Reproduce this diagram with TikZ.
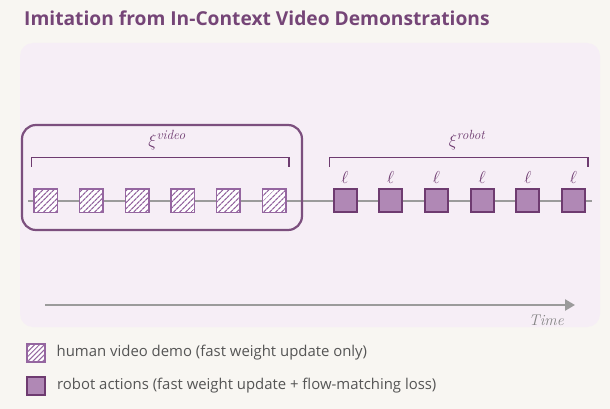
\documentclass[tikz,border=0pt]{standalone}
\usepackage{amsmath, amssymb}
\usepackage{fontspec}
\usepackage{tikz}
\usetikzlibrary{
  arrows.meta,    % Time arrow head
  patterns.meta,  % hatched video frames
  positioning     % legend text next to its swatch
}
\newfontfamily\uisans{Open Sans}
\definecolor{pagebg}{HTML}{F8F6F2}
\definecolor{panelbg}{HTML}{F6EEF6}
\definecolor{plum}{HTML}{6E3B70}
\definecolor{plumlight}{HTML}{9566A0}
\definecolor{plumfill}{HTML}{B088B5}
\definecolor{tlgray}{HTML}{9B9B9B}
\definecolor{txtgray}{HTML}{555555}

\begin{document}
\begin{tikzpicture}[x=1pt, y=-1pt,
    vidframe/.style={draw=plumlight, line width=1.5pt, minimum size=23.5pt, inner sep=0pt,
      preaction={fill=white},
      pattern={Lines[angle=45, distance=4pt, line width=1.3pt]}, pattern color=plumlight},
    robframe/.style={draw=plum, line width=2pt, fill=plumfill, minimum size=23pt, inner sep=0pt,
      label={[plum, label distance=0.5pt, font=\fontsize{16}{17}\selectfont]above:$\ell$}},
    brace/.style={draw=plum, line width=1.8pt},
    legtext/.style={font=\uisans\fontsize{14.9}{16}\selectfont, text=txtgray, inner sep=0pt, anchor=west}]
  \useasboundingbox (0,0) rectangle (610,409);
  \fill[pagebg] (0,0) rectangle (610,409);
  \fill[panelbg, rounded corners=13pt] (20,43) rectangle (600,327);

  \node[anchor=base west, inner sep=0pt, text=plum!95, font=\uisans\bfseries\fontsize{19.2}{22}\selectfont]
    (title) at (24,25.5) {Imitation from In-Context Video Demonstrations};

  % timeline behind the frames
  \coordinate (tl0) at (28,201);
  \coordinate (tl1) at (592,201);
  \draw[tlgray, line width=2.5pt] (tl0) -- (tl1);

  % context (video) part
  \draw[plum!90, line width=2.2pt, rounded corners=14pt] (22,125) rectangle (302,230);
  \coordinate (vbl) at (31.5,166.5);
  \coordinate (vbr) at (289,166.5);
  \draw[brace] (vbl) -- ++(0,-9) -| (vbr);
  \node[text=plum, font=\fontsize{19}{21}\selectfont] (xivid) at (167,140) {$\xi^{\textit{video}}$};

  \node[vidframe] (v1) at (45.5,200.5) {};
  \node[vidframe] (v2) at (91.2,200.5) {};
  \node[vidframe] (v3) at (137,200.5) {};
  \node[vidframe] (v4) at (182.7,200.5) {};
  \node[vidframe] (v5) at (228.4,200.5) {};
  \node[vidframe] (v6) at (274,200.5) {};

  % robot part
  \coordinate (rbl) at (329.5,166.5);
  \coordinate (rbr) at (588,166.5);
  \draw[brace] (rbl) -- ++(0,-9) -| (rbr);
  \node[text=plum, font=\fontsize{19}{21}\selectfont] (xirob) at (467,140) {$\xi^{\textit{robot}}$};

  \node[robframe] (r1) at (345,200.5) {};
  \node[robframe] (r2) at (390.7,200.5) {};
  \node[robframe] (r3) at (436.4,200.5) {};
  \node[robframe] (r4) at (482.1,200.5) {};
  \node[robframe] (r5) at (527.8,200.5) {};
  \node[robframe] (r6) at (573.5,200.5) {};

  % time axis
  \coordinate (t0) at (45,305);
  \coordinate (t1) at (575,305);
  \draw[tlgray, line width=2.5pt, -{Triangle[length=10pt, width=11pt]}] (t0) -- (t1);
  \node[text=tlgray!85!black, font=\itshape\fontsize{15.5}{17}\selectfont, anchor=base east, inner sep=0pt]
    (timelbl) at (564,325) {Time};

  % legend
  \node[vidframe, minimum size=18pt, pattern={Lines[angle=45, distance=3.5pt, line width=1pt]}] (leg1) at (36,353) {};
  \node[legtext, right=11pt of leg1] (leg1txt) {human video demo (fast weight update only)};
  \node[draw=plum, line width=2pt, fill=plumfill, minimum size=18pt, inner sep=0pt] (leg2) at (36,385.5) {};
  \node[legtext, right=11pt of leg2] (leg2txt) {robot actions (fast weight update + flow-matching loss)};
\end{tikzpicture}
\end{document}
